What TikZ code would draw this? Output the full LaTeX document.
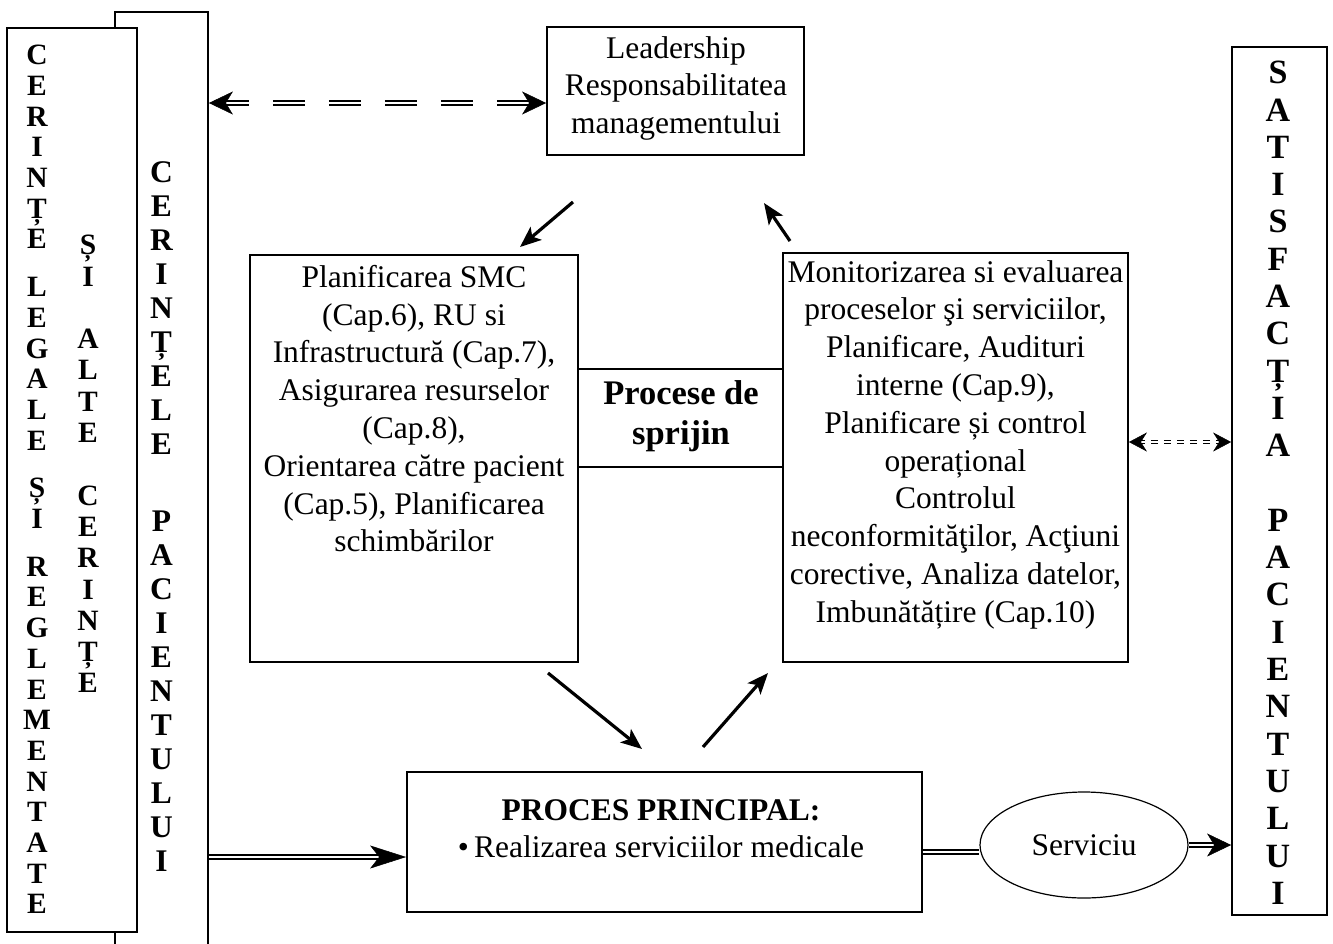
\documentclass[tikz,border=0pt]{standalone}
\usepackage{fontspec}
\setmainfont{Liberation Serif}
\usetikzlibrary{arrows.meta,shapes.geometric,calc}

\tikzset{
  box/.style={draw, line width=1.8pt, fill=white, inner sep=0pt},
  txt/.style={align=center, inner sep=0pt, font=\fontsize{31.5}{37.8}\selectfont},
  letters/.style={align=center, inner sep=0pt, anchor=north},
  pil/.style={line width=3.2pt, -{Stealth[length=21pt,width=17pt,inset=5pt]}},
  dbl/.style={double, line width=1.7pt, double distance=2.4pt},
  dblsmall/.style={double, line width=1.5pt, double distance=1.6pt},
  tipline/.style={line width=0.5pt},
  bigtip/.tip={Stealth[length=24pt,width=23pt,inset=7pt]},
  longtip/.tip={Stealth[length=36pt,width=23pt,inset=9pt]},
  smalltip/.tip={Stealth[length=18pt,width=19pt,inset=6pt]},
}

\begin{document}
\begin{tikzpicture}[x=1pt,y=-1pt]
  \useasboundingbox (0,0) rectangle (1333,943);
  % columns on the left
  \node[box, minimum width=93pt, minimum height=948pt] (pac) at (161.5,486) {};
  \node[box, minimum width=130pt, minimum height=904pt] (leg) at (72,480) {};
  \node[letters, font=\bfseries\fontsize{29.5}{30.7}\selectfont] (c1) at (37,45)
    {C\\E\\R\\I\\N\\Ț\\E\\[17pt]L\\E\\G\\A\\L\\E\\[17pt]Ș\\I\\[17pt]R\\E\\G\\L\\E\\M\\E\\N\\T\\A\\T\\E};
  \node[letters, font=\bfseries\fontsize{29.5}{31.3}\selectfont] (c2) at (88,235)
    {Ș\\I\\[31.3pt]A\\L\\T\\E\\[31.3pt]C\\E\\R\\I\\N\\Ț\\E};
  \node[letters, font=\bfseries\fontsize{31.5}{34}\selectfont] (c3) at (161.5,161)
    {C\\E\\R\\I\\N\\Ț\\E\\L\\E\\[43pt]P\\A\\C\\I\\E\\N\\T\\U\\L\\U\\I};
  % column on the right
  \node[box, minimum width=95pt, minimum height=868pt] (sat) at (1279.5,481) {};
  \node[letters, font=\bfseries\fontsize{34}{37.3}\selectfont] (c4) at (1278,61)
    {S\\A\\T\\I\\S\\F\\A\\C\\Ț\\I\\A\\[37.3pt]P\\A\\C\\I\\E\\N\\T\\U\\L\\U\\I};

  % boxes in the middle
  \node[box, minimum width=257pt, minimum height=128pt] (lead) at (675.5,91) {};
  \node[txt, anchor=north] (leadtxt) at (676,36)
    {Leadership\\Responsabilitatea\\managementului};
  \node[box, minimum width=328pt, minimum height=407pt] (plan) at (414,458.5) {};
  \node[txt, anchor=north] (plantxt) at (414,265)
    {Planificarea SMC\\(Cap.6), RU si\\Infrastructură (Cap.7),\\Asigurarea resurselor\\(Cap.8),\\Orientarea către pacient\\(Cap.5), Planificarea\\schimbărilor};
  \node[box, minimum width=345pt, minimum height=409pt] (mon) at (955.5,457.5) {};
  \node[txt, anchor=north] (montxt) at (955.5,260)
    {Monitorizarea si evaluarea\\proceselor şi serviciilor,\\Planificare, Audituri\\interne (Cap.9),\\Planificare și control\\operațional\\Controlul\\neconformităţilor, Acţiuni\\corective, Analiza datelor,\\Imbunătățire (Cap.10)};
  \node[font=\bfseries\fontsize{34.5}{39.7}\selectfont, align=center, inner sep=0pt] (spr) at (681,416)
    {Procese de\\sprijin};
  \node[box, minimum width=515pt, minimum height=140pt] (proc) at (664.5,842) {};
  \node[txt, anchor=north] (proctxt) at (661,799)
    {\textbf{PROCES PRINCIPAL:}\\\textbullet\,Realizarea serviciilor medicale};
  \node[draw, ellipse, line width=1.2pt, minimum width=208pt, minimum height=106pt, font=\fontsize{31.5}{37.8}\selectfont] (serv) at (1084,845) {Serviciu};

  % lines between the two process boxes
  \coordinate (ys1) at (0,369);
  \coordinate (ys2) at (0,467);
  \draw[line width=1.8pt] (plan.east |- ys1) -- (mon.west |- ys1);
  \draw[line width=1.8pt] (plan.east |- ys2) -- (mon.west |- ys2);

  % connectors
  \coordinate (ya) at (0,103);
  \coordinate (yb) at (0,442);
  \coordinate (yc) at (0,857);
  \coordinate (yd) at (0,852);
  \coordinate (l1) at (pac.east |- ya);
  \coordinate (r1) at (lead.west |- ya);
  \draw[dbl, dash pattern=on 32pt off 24pt, dash phase=6pt, shorten <=14pt, shorten >=14pt] (l1) -- (r1);
  \draw[tipline, -bigtip] ($(l1)!6pt!(r1)$) -- (l1);
  \draw[tipline, -bigtip] ($(r1)!6pt!(l1)$) -- (r1);

  \coordinate (l2) at (mon.east |- yb);
  \coordinate (r2) at (sat.west |- yb);
  \draw[dblsmall, dash pattern=on 7pt off 6pt, dash phase=2pt, shorten <=11pt, shorten >=11pt] (l2) -- (r2);
  \draw[tipline, -smalltip] ($(l2)!6pt!(r2)$) -- (l2);
  \draw[tipline, -smalltip] ($(r2)!6pt!(l2)$) -- (r2);

  \coordinate (l3) at (pac.east |- yc);
  \coordinate (r3) at (proc.west |- yc);
  \draw[dbl, shorten >=26pt] (l3) -- (r3);
  \draw[tipline, -longtip] ($(r3)!6pt!(l3)$) -- (r3);

  \draw[dbl] (proc.east |- yd) -- (serv.west |- yd);

  \coordinate (r4) at (serv.east -| sat.west);
  \draw[dbl, shorten >=15pt] (serv.east) -- (r4);
  \draw[tipline, -bigtip] ($(r4)!6pt!(serv.east)$) -- (r4);

  % arrows of the cycle
  \coordinate (a1) at (573,202);
  \coordinate (b1) at (520,247);
  \coordinate (a2) at (790,241);
  \coordinate (b2) at (764,203);
  \coordinate (a3) at (548,673);
  \coordinate (b3) at (642,749);
  \coordinate (a4) at (703,747);
  \coordinate (b4) at (768,673);
  \draw[pil] (a1) -- (b1);
  \draw[pil] (a2) -- (b2);
  \draw[pil] (a3) -- (b3);
  \draw[pil] (a4) -- (b4);
\end{tikzpicture}
\end{document}
